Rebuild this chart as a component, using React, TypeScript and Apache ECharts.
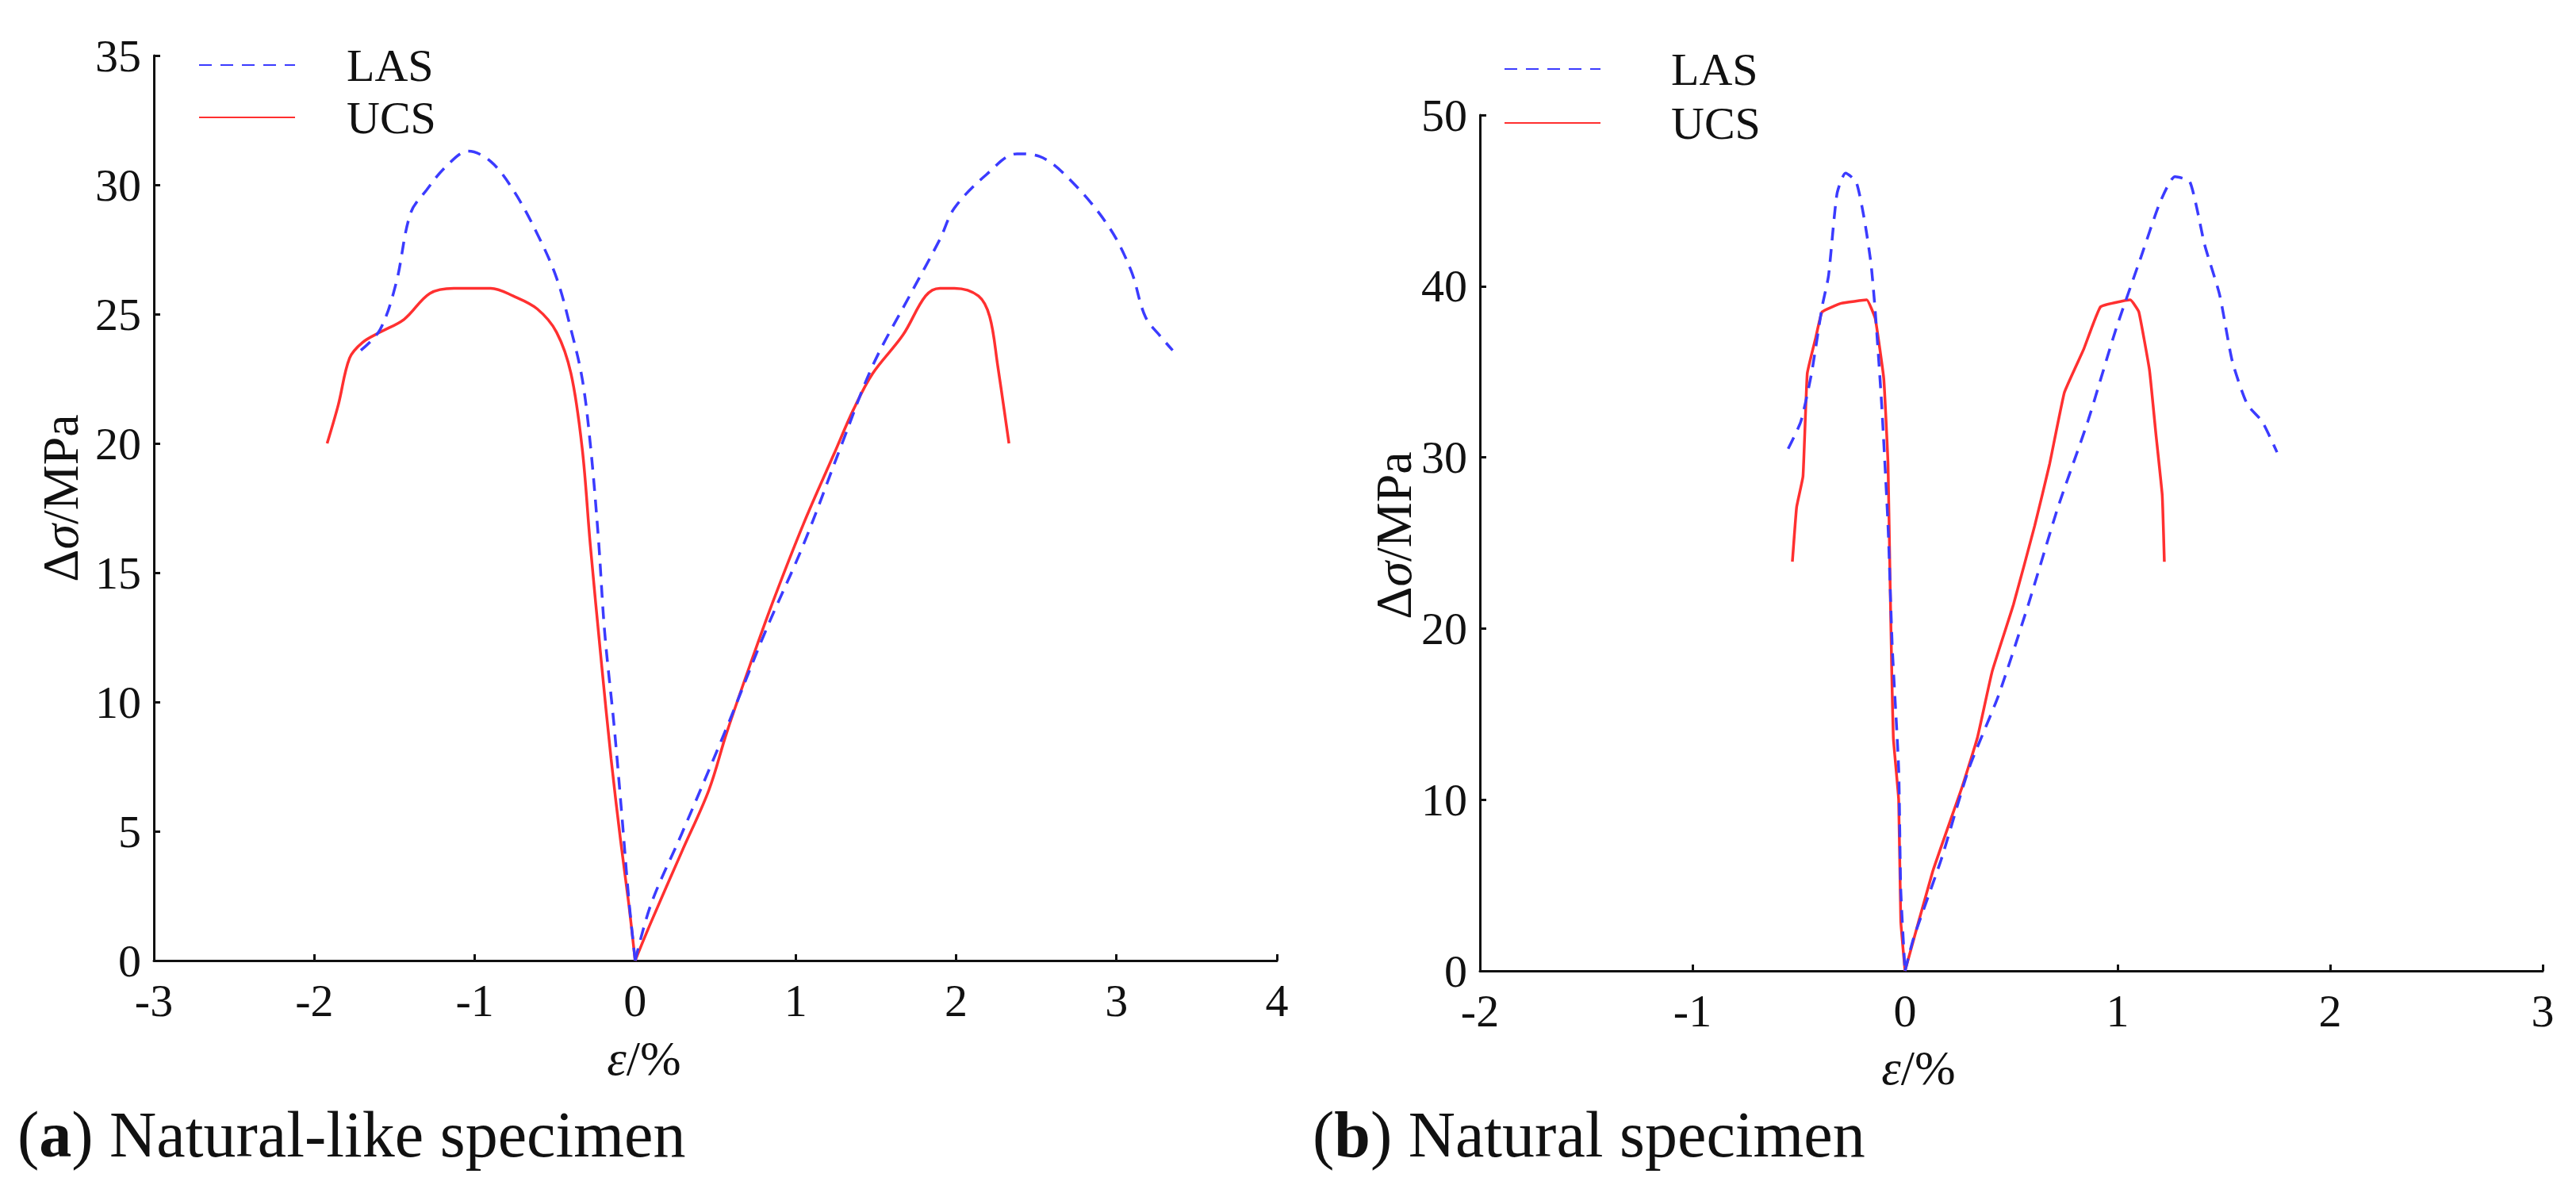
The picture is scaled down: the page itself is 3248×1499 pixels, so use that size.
import { useEffect, useRef } from 'react';
import * as echarts from 'echarts';

const FONT = '"Liberation Serif", "Times New Roman", serif';
const BLUE = '#3b3bff';
const RED = '#ff3030';

// (a) natural-like specimen, [strain %, stress MPa]
const lasLeftA = [
  [-1.71, 23.6], [-1.59, 24.4], [-1.49, 26.2], [-1.4, 28.9], [-1.3, 29.8], [-1.18, 30.7],
  [-1.04, 31.3], [-0.9, 30.9], [-0.76, 29.8], [-0.61, 28.1], [-0.49, 26.4], [-0.4, 24.4],
  [-0.33, 22.5], [-0.28, 20.0], [-0.23, 16.4], [-0.19, 12.7], [-0.13, 9.0], [-0.08, 5.4],
  [-0.04, 2.4], [0, 0],
];
const lasRightA = [
  [0, 0], [0.1, 2.2], [0.29, 4.9], [0.57, 9.0], [0.81, 12.7], [1.05, 16.1], [1.29, 20.0],
  [1.48, 23.0], [1.71, 25.7], [1.9, 27.9], [1.99, 29.1], [2.19, 30.4], [2.38, 31.2],
  [2.52, 31.1], [2.71, 30.2], [2.95, 28.4], [3.09, 26.7], [3.18, 24.9], [3.28, 24.1], [3.35, 23.6],
];
const ucsLeftA = [
  [-1.92, 20.0], [-1.85, 21.5], [-1.78, 23.3], [-1.7, 23.9], [-1.59, 24.3], [-1.44, 24.8],
  [-1.28, 25.8], [-1.13, 26.0], [-0.9, 26.0], [-0.76, 25.7], [-0.61, 25.2], [-0.49, 24.3],
  [-0.4, 22.7], [-0.33, 19.8], [-0.28, 16.1], [-0.21, 11.5], [-0.15, 7.8], [-0.09, 4.6],
  [-0.04, 2.2], [0, 0],
];
const ucsRightA = [
  [0, 0], [0.1, 1.5], [0.29, 4.2], [0.46, 6.6], [0.57, 8.8], [0.72, 11.5], [0.86, 13.9],
  [1.05, 16.9], [1.24, 19.6], [1.36, 21.3], [1.48, 22.7], [1.67, 24.2], [1.81, 25.7],
  [1.9, 26.0], [1.99, 26.0], [2.14, 25.7], [2.21, 24.9], [2.26, 23.0], [2.3, 21.3], [2.33, 20.0],
];

// (b) natural specimen
const lasLeftB = [
  [-0.55, 30.5], [-0.49, 32.1], [-0.44, 34.9], [-0.39, 38.8], [-0.36, 40.6], [-0.32, 45.4],
  [-0.28, 46.6], [-0.23, 46.1], [-0.19, 43.8], [-0.16, 41.3], [-0.14, 38.5], [-0.11, 33.1],
  [-0.08, 26.0], [-0.06, 18.9], [-0.03, 11.8], [-0.02, 4.7], [0, 0],
];
const lasRightB = [
  [0, 0], [0.04, 1.9], [0.17, 6.5], [0.3, 11.8], [0.44, 16.1], [0.58, 21.4], [0.72, 27.1],
  [0.86, 32.1], [0.99, 37.4], [1.11, 41.7], [1.2, 44.9], [1.27, 46.4], [1.34, 46.1],
  [1.41, 42.4], [1.48, 39.5], [1.54, 35.6], [1.61, 33.1], [1.68, 32.1], [1.75, 30.3],
];
const ucsLeftB = [
  [-0.53, 23.9], [-0.51, 27.1], [-0.48, 28.9], [-0.46, 34.9], [-0.42, 37.0], [-0.39, 38.5],
  [-0.3, 39.0], [-0.18, 39.2], [-0.14, 38.1], [-0.1, 34.6], [-0.08, 29.6], [-0.07, 22.5],
  [-0.062, 17.2], [-0.055, 13.6], [-0.03, 10.0], [-0.02, 2.9], [0, 0],
];
const ucsRightB = [
  [0, 0], [0.13, 5.8], [0.27, 10.8], [0.34, 13.6], [0.41, 17.5], [0.51, 21.4], [0.61, 26.0],
  [0.68, 29.6], [0.75, 33.8], [0.84, 36.3], [0.92, 38.8], [1.06, 39.2], [1.1, 38.5],
  [1.15, 35.1], [1.18, 31.4], [1.21, 27.8], [1.22, 23.9],
];

const seriesNames = ['LAS', 'UCS'];
const xRangeA = [-3, 4];
const yRangeA = [0, 35, 5];
const xRangeB = [-2, 3];
const yRangeB = [0, 50, 10];

function line(name: string, data: number[][], idx: number, smooth: number) {
  const dashed = name === 'LAS';
  const color = dashed ? BLUE : RED;
  return {
    type: 'line',
    name,
    data,
    xAxisIndex: idx,
    yAxisIndex: idx,
    symbol: 'none',
    showSymbol: false,
    smooth,
    silent: true,
    z: dashed ? 3 : 2,
    itemStyle: { color },
    lineStyle: { color, width: 3.5, type: dashed ? [16, 11] : 'solid' },
  };
}

function valueAxis(grid: number, min: number, max: number, interval: number, margin: number) {
  return {
    gridIndex: grid,
    type: 'value',
    min,
    max,
    interval,
    axisLine: { show: true, onZero: false, lineStyle: { color: '#111', width: 3 } },
    axisTick: { show: true, inside: true, length: 8, lineStyle: { color: '#111', width: 3 } },
    axisLabel: { fontSize: 58, lineHeight: 40, fontFamily: FONT, color: '#111', margin },
    splitLine: { show: false },
  };
}

function legend(left: number, top: number, gap: number, pad: number) {
  return {
    data: seriesNames,
    orient: 'vertical',
    left,
    top,
    padding: 0,
    itemWidth: 121,
    itemHeight: 20,
    itemGap: gap,
    selectedMode: false,
    itemStyle: { opacity: 0, borderWidth: 0 },
    textStyle: { fontSize: 58, fontFamily: FONT, color: '#111', lineHeight: 58, padding: [0, 0, 0, pad] },
  };
}

function label(x: number, y: number, text: string, size: number, rotate = false, align = 'center') {
  return {
    type: 'text',
    x,
    y,
    rotation: rotate ? Math.PI / 2 : 0,
    silent: true,
    style: {
      text,
      fill: '#111',
      fontSize: size,
      fontFamily: FONT,
      align,
      textAlign: align,
      verticalAlign: 'middle',
      textVerticalAlign: 'middle',
      rich: {
        i: { fontStyle: 'italic', fontSize: size, fontFamily: FONT, fill: '#111' },
        b: { fontWeight: 'bold', fontSize: size, fontFamily: FONT, fill: '#111' },
      },
    },
  };
}

export default function App() {
  const ref = useRef<HTMLDivElement>(null);

  useEffect(() => {
    if (!ref.current) return;
    const chart = echarts.init(ref.current, undefined, { renderer: 'svg' });

    chart.setOption({
      animation: false,
      backgroundColor: '#fff',
      grid: [
        { left: 194, top: 70, width: 1416, height: 1141 },
        { left: 1866, top: 145, width: 1340, height: 1079 },
      ],
      xAxis: [
        valueAxis(0, xRangeA[0], xRangeA[1], 1, 30),
        valueAxis(1, xRangeB[0], xRangeB[1], 1, 30),
      ],
      yAxis: [
        valueAxis(0, yRangeA[0], yRangeA[1], yRangeA[2], 16),
        valueAxis(1, yRangeB[0], yRangeB[1], yRangeB[2], 16),
      ],
      legend: [legend(250, 53, 8, 60), legend(1896, 58, 10, 84)],
      series: [
        line('LAS', lasLeftA, 0, 0.35),
        line('LAS', lasRightA, 0, 0.35),
        line('UCS', ucsLeftA, 0, 0.35),
        line('UCS', ucsRightA, 0, 0.35),
        line('LAS', lasLeftB, 1, 0.2),
        line('LAS', lasRightB, 1, 0.2),
        line('UCS', ucsLeftB, 1, 0.1),
        line('UCS', ucsRightB, 1, 0.1),
      ],
      graphic: [
        label(76, 628, 'Δ{i|σ}/MPa', 64, true),
        label(1757, 675, 'Δ{i|σ}/MPa', 64, true),
        label(812, 1334, '{i|ε}/%', 62),
        label(2419, 1346, '{i|ε}/%', 62),
        label(22, 1430, '({b|a}) Natural-like specimen', 82, false, 'left'),
        label(1655, 1430, '({b|b}) Natural specimen', 82, false, 'left'),
      ],
    });

    return () => chart.dispose();
  }, []);

  return (
    <div
      ref={ref}
      style={{ position: 'absolute', left: 0, top: 0, width: 3248, height: 1499, background: '#fff' }}
    />
  );
}
